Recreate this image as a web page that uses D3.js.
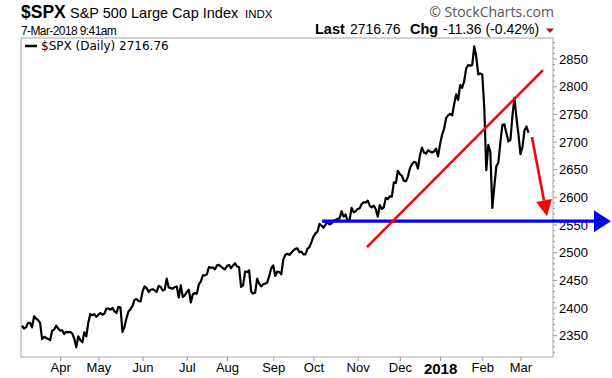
<!doctype html>
<html>

<head>
    <meta charset="utf-8">
    <title>SPX</title>
    <style>
        body {
            margin: 0;
            background: #fff;
        }

        svg {
            display: block;
            font-family: "Liberation Sans", Arial, sans-serif;
        }
    </style>
    <script src="https://cdn.jsdelivr.net/npm/d3@7/dist/d3.min.js"></script>
</head>

<body>
    <svg width="612" height="378"></svg>
    <script>
        // daily closes, one array per month (Mar 7 2017 .. Mar 7 2018)
        var mar17 = [2368, 2363, 2365, 2373, 2373, 2365, 2385, 2381, 2378, 2373, 2344, 2348, 2346, 2344, 2342, 2359, 2361, 2368, 2363];
        var apr17 = [2359, 2360, 2353, 2357, 2356, 2357, 2354, 2345, 2329, 2349, 2342, 2338, 2356, 2349, 2374, 2389, 2387, 2389, 2384];
        var may17 = [2388, 2391, 2388, 2390, 2399, 2399, 2397, 2400, 2394, 2391, 2402, 2401, 2357, 2366, 2382, 2394, 2398, 2404, 2415, 2416, 2413, 2412];
        var jun17 = [2430, 2439, 2436, 2429, 2433, 2434, 2432, 2429, 2440, 2438, 2432, 2433, 2453, 2437, 2436, 2435, 2438, 2439, 2419, 2441, 2420, 2423];
        var jul17 = [2429, 2433, 2410, 2425, 2427, 2426, 2443, 2448, 2459, 2459, 2461, 2474, 2473, 2473, 2470, 2477, 2478, 2475, 2472, 2470];
        var aug17 = [2476, 2478, 2472, 2477, 2481, 2475, 2474, 2438, 2441, 2466, 2465, 2468, 2430, 2426, 2428, 2453, 2444, 2439, 2443, 2444, 2446, 2458, 2472];
        var sep17 = [2477, 2458, 2466, 2465, 2461, 2488, 2496, 2498, 2496, 2500, 2504, 2507, 2508, 2501, 2502, 2497, 2497, 2507, 2510, 2519];
        var oct17 = [2529, 2535, 2538, 2552, 2549, 2545, 2551, 2555, 2551, 2553, 2558, 2559, 2561, 2562, 2575, 2565, 2569, 2557, 2560, 2581, 2573, 2575];
        var nov17 = [2579, 2580, 2588, 2591, 2591, 2594, 2585, 2582, 2585, 2579, 2565, 2586, 2579, 2582, 2599, 2597, 2602, 2601, 2627, 2626, 2648];
        var dec17 = [2642, 2639, 2630, 2629, 2637, 2652, 2660, 2664, 2663, 2652, 2676, 2690, 2681, 2679, 2685, 2683, 2681, 2683, 2688, 2674];
        var jan18 = [2696, 2713, 2724, 2743, 2748, 2751, 2748, 2768, 2786, 2776, 2803, 2798, 2810, 2833, 2839, 2838, 2839, 2873, 2854, 2822, 2824];
        var feb18 = [2822, 2762, 2649, 2695, 2682, 2581, 2620, 2656, 2663, 2699, 2731, 2732, 2716, 2701, 2704, 2747, 2780, 2744, 2714];
        var mar18 = [2678, 2691, 2721, 2728, 2716.76];

        var monthData = [mar17, apr17, may17, jun17, jul17, aug17, sep17, oct17, nov17, dec17, jan18, feb18, mar18];
        var monthLabels = ["Mar", "Apr", "May", "Jun", "Jul", "Aug", "Sep", "Oct", "Nov", "Dec", "2018", "Feb", "Mar"];
        var yTicks = [2350, 2400, 2450, 2500, 2550, 2600, 2650, 2700, 2750, 2800, 2850];

        // drawn annotations, in (trading day index, price)
        var trendLine = [[171.6, 2510], [259.2, 2830]];
        var supportLine = [[149.3, 2557], [293, 2557]];
        var dropArrow = [[253.7, 2709], [261.2, 2566]];

        var svg = d3.select("svg");
        var frame = { left: 21, right: 553, top: 38, bottom: 357 };

        // flatten months -> points, remember where each month starts
        var data = [], monthStart = [];
        monthData.forEach(function (arr, m) {
            monthStart.push(data.length);
            arr.forEach(function (v) { data.push({ i: data.length, v: v }); });
        });

        var x = d3.scaleLinear().domain([0, data.length - 1]).range([22, 528.5]);
        var y = d3.scaleLinear().domain([2350, 2850]).range([335.7, 59]);

        // header
        var hdr = svg.append("g");
        hdr.append("text").attr("x", 21).attr("y", 18).attr("font-size", 17.5).attr("font-weight", "bold").text("$SPX");
        hdr.append("text").attr("x", 70).attr("y", 18).attr("font-size", 14.5).text("S&P 500 Large Cap Index");
        hdr.append("text").attr("x", 245).attr("y", 18).attr("font-size", 11.5).text("INDX");
        hdr.append("text").attr("x", 21).attr("y", 35).attr("font-size", 12)
            .attr("letter-spacing", -0.6).text("7-Mar-2018 9:41am");

        hdr.append("text").attr("x", 554).attr("y", 17).attr("text-anchor", "end")
            .attr("font-family", "'Open Sans', sans-serif").attr("font-size", 14).attr("fill", "#555")
            .text("\u00A9 StockCharts.com");

        var hy = 34;
        hdr.append("text").attr("x", 315).attr("y", hy).attr("font-size", 14.5).attr("font-weight", "bold").text("Last");
        hdr.append("text").attr("x", 350).attr("y", hy).attr("font-size", 14).text("2716.76");
        hdr.append("text").attr("x", 410).attr("y", hy).attr("font-size", 14.5).attr("font-weight", "bold").text("Chg");
        hdr.append("text").attr("x", 443).attr("y", hy).attr("font-size", 14).text("-11.36 (-0.42%)");
        hdr.append("path").attr("d", "M546,28.5 L554,28.5 L550,33 Z").attr("fill", "#b0102a");

        // frame
        svg.append("rect")
            .attr("x", frame.left).attr("y", frame.top)
            .attr("width", frame.right - frame.left).attr("height", frame.bottom - frame.top)
            .attr("fill", "none").attr("stroke", "#c4c4c4").attr("stroke-width", 1.5);

        // legend
        svg.append("line").attr("x1", 25).attr("x2", 37).attr("y1", 46).attr("y2", 46)
            .attr("stroke", "#000").attr("stroke-width", 2.5);
        svg.append("text").attr("x", 41).attr("y", 50)
            .attr("font-family", "'DejaVu Sans', sans-serif").attr("font-size", 12)
            .text("$SPX (Daily) 2716.76");

        // right axis
        var yAxis = svg.append("g");
        d3.range(2320, 2890, 10).forEach(function (v) {
            var yy = y(v);
            if (yy < frame.top + 1 || yy > frame.bottom - 1) return;
            var major = v % 50 === 0;
            yAxis.append("line").attr("x1", frame.right).attr("x2", frame.right + (major ? 4 : 2))
                .attr("y1", yy).attr("y2", yy).attr("stroke", "#999").attr("stroke-width", 1);
        });
        yAxis.selectAll("text").data(yTicks).enter().append("text")
            .attr("x", 559).attr("y", function (d) { return y(d); })
            .attr("dy", "0.36em").attr("font-size", 13)
            .text(function (d) { return d; });

        // bottom axis: month starts
        var ticks = monthStart.slice(1);
        var xAxis = d3.axisBottom(x).tickValues(ticks).tickSize(4)
            .tickFormat(function (d) { return monthLabels[monthStart.indexOf(d)]; });
        var gx = svg.append("g").attr("transform", "translate(0," + frame.bottom + ")").call(xAxis);
        gx.select(".domain").remove();
        gx.selectAll(".tick line").attr("stroke", "#999");
        gx.selectAll(".tick text")
            .attr("y", 6).attr("dy", "0.71em")
            .attr("font-family", "'Liberation Sans', Arial, sans-serif")
            .attr("font-size", function (d) { return monthLabels[monthStart.indexOf(d)] === "2018" ? 15 : 13; })
            .attr("font-weight", function (d) { return monthLabels[monthStart.indexOf(d)] === "2018" ? "bold" : "normal"; })
            .attr("fill", "#000");

        // price line
        var line = d3.line().x(function (d) { return x(d.i); }).y(function (d) { return y(d.v); });
        svg.append("path").datum(data)
            .attr("d", line)
            .attr("fill", "none").attr("stroke", "#000").attr("stroke-width", 2.2)
            .attr("stroke-linejoin", "round");

        // annotations
        function px(p) { return [x(p[0]), y(p[1])]; }

        var s0 = px(supportLine[0]), s1 = px(supportLine[1]);
        svg.append("line").attr("x1", s0[0]).attr("y1", s0[1]).attr("x2", s1[0] - 16).attr("y2", s1[1])
            .attr("stroke", "#0000ff").attr("stroke-width", 3.2);
        svg.append("path")
            .attr("d", "M" + (s1[0] - 17) + "," + (s1[1] - 11) + " L" + s1[0] + "," + s1[1] +
                " L" + (s1[0] - 17) + "," + (s1[1] + 11) + " Z")
            .attr("fill", "#0000ff");

        var r0 = px(trendLine[0]), r1 = px(trendLine[1]);
        svg.append("line").attr("x1", r0[0]).attr("y1", r0[1]).attr("x2", r1[0]).attr("y2", r1[1])
            .attr("stroke", "#ff0000").attr("stroke-width", 2.6);

        var a0 = px(dropArrow[0]), a1 = px(dropArrow[1]);
        var ang = Math.atan2(a1[1] - a0[1], a1[0] - a0[0]);
        var hl = 16, hw = 8;
        var bx = a1[0] - hl * Math.cos(ang), by = a1[1] - hl * Math.sin(ang);
        svg.append("line").attr("x1", a0[0]).attr("y1", a0[1]).attr("x2", bx).attr("y2", by)
            .attr("stroke", "#ff0000").attr("stroke-width", 2.6);
        svg.append("path")
            .attr("d", "M" + (bx + hw * Math.sin(ang)) + "," + (by - hw * Math.cos(ang)) +
                " L" + a1[0] + "," + a1[1] +
                " L" + (bx - hw * Math.sin(ang)) + "," + (by + hw * Math.cos(ang)) + " Z")
            .attr("fill", "#ff0000");
    </script>
</body>

</html>
